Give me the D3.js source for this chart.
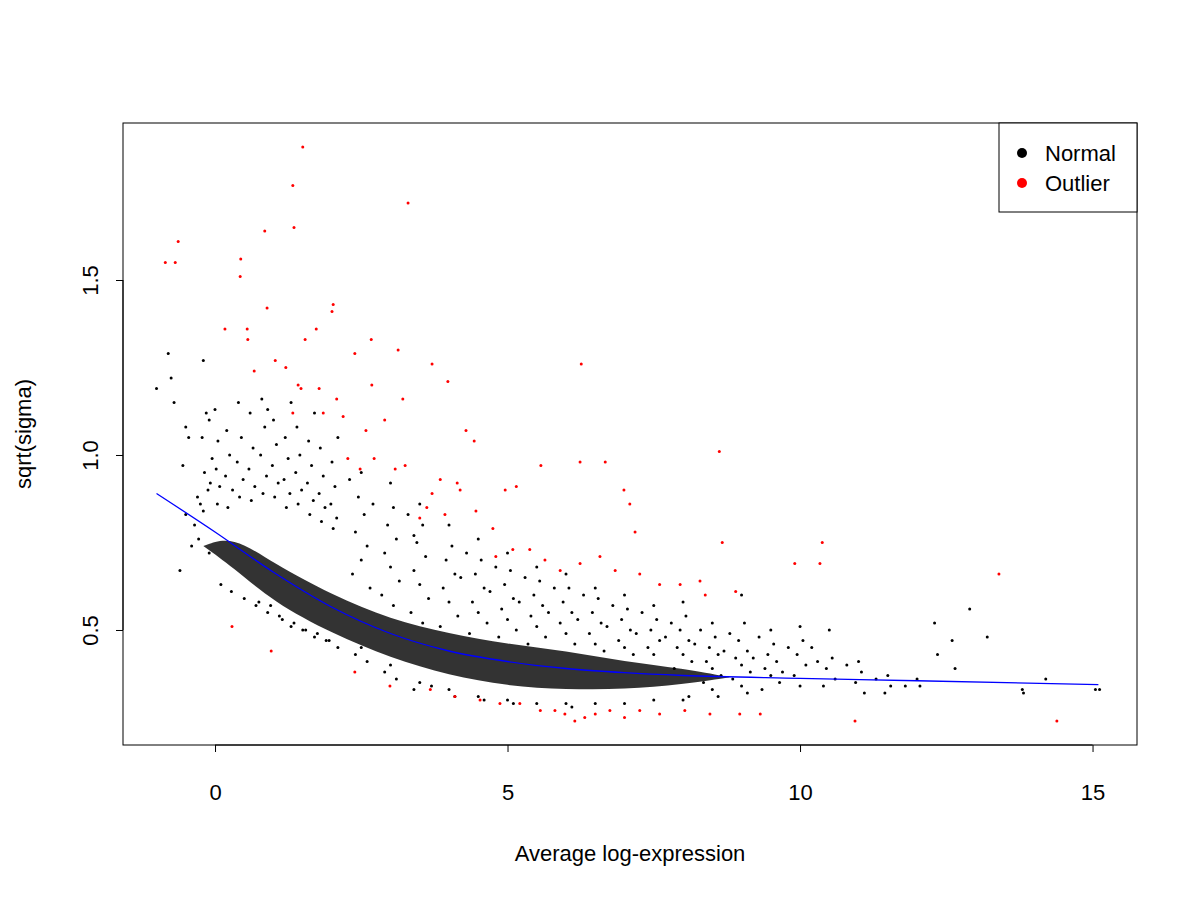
<!DOCTYPE html>
<html><head><meta charset="utf-8">
<script src="https://cdn.jsdelivr.net/npm/d3@7"></script>
<style>body{margin:0;background:#fff}</style></head>
<body><svg id="c" width="1200" height="900"></svg>
<script>
const xTicks=[0,5,10,15];
const yTicks=[0.5,1.0,1.5];
const trend=[[-1,0.89],[0,0.78],[1,0.665],[2,0.565],[3,0.49],[4,0.44],[5,0.41],[6,0.39],[7,0.378],[8,0.37],[10,0.362],[12,0.355],[15.1,0.344]];
const coreBand=[[-0.2,0.74,0.74],[0.3,0.68,0.77],[1,0.58,0.69],[2,0.49,0.60],[3,0.42,0.53],[4,0.37,0.49],[5,0.34,0.46],[6,0.33,0.44],[7,0.33,0.41],[8,0.345,0.39],[8.8,0.365,0.365]];
const normalPts="-1.0 1.19;-0.8 1.29;-0.75 1.22;-0.7 1.15;-0.5 1.08;-0.45 1.05;-0.55 0.97;-0.5 0.83;-0.4 0.74;-0.6 0.67;-0.3 0.88;-0.25 0.86;-0.35 0.80;-0.28 0.76;-0.2 1.27;-0.15 1.12;-0.22 1.05;-0.18 0.95;-0.12 0.90;-0.2 0.84;-0.1 0.72;-0.1 1.10;-0.05 0.99;-0.08 0.92;0.0 1.13;0.05 1.04;0.02 0.96;0.08 0.91;0.04 0.86;0.1 0.63;0.2 1.07;0.25 1.00;0.18 0.94;0.3 0.90;0.22 0.85;0.28 0.61;0.4 1.15;0.45 1.05;0.38 0.98;0.48 0.93;0.42 0.88;0.5 0.59;0.6 1.12;0.65 1.02;0.58 0.96;0.68 0.91;0.62 0.87;0.7 0.57;0.8 1.16;0.85 1.08;0.78 1.00;0.88 0.94;0.82 0.89;0.9 0.55;0.75 0.58;1.0 1.10;1.05 1.03;0.98 0.97;1.08 0.92;1.02 0.88;1.1 0.54;0.95 0.57;1.2 1.05;1.25 0.99;1.18 0.93;1.28 0.89;1.22 0.85;1.3 0.51;1.15 0.53;1.4 1.08;1.45 1.00;1.38 0.95;1.48 0.90;1.42 0.86;1.5 0.50;1.35 0.52;1.6 1.04;1.65 0.97;1.58 0.92;1.68 0.87;1.62 0.83;1.7 0.48;1.55 0.50;1.8 1.02;1.85 0.94;1.78 0.89;1.88 0.85;1.82 0.81;1.9 0.47;1.75 0.49;2.0 0.98;2.05 0.91;1.98 0.86;2.08 0.82;2.02 0.79;2.1 0.45;1.95 0.47;2.1 1.05;1.7 1.12;1.3 1.15;0.9 1.13;2.5 0.95;2.45 0.88;2.55 0.83;2.4 0.78;2.6 0.74;2.5 0.70;2.35 0.66;2.65 0.62;2.5 0.45;2.4 0.43;2.6 0.41;2.3 0.93;2.7 0.86;3.0 0.92;3.05 0.85;2.95 0.80;3.1 0.76;2.9 0.72;3.0 0.68;3.15 0.64;2.85 0.60;3.05 0.57;3.0 0.40;2.9 0.38;3.1 0.36;3.3 0.83;3.4 0.77;3.5 0.86;3.55 0.80;3.45 0.75;3.6 0.71;3.4 0.67;3.5 0.63;3.65 0.59;3.35 0.55;3.55 0.52;3.5 0.35;3.4 0.33;3.7 0.34;4.0 0.80;4.05 0.74;3.95 0.70;4.1 0.66;3.9 0.62;4.0 0.58;4.15 0.54;3.85 0.51;4.0 0.33;4.1 0.31;4.3 0.72;4.2 0.65;4.5 0.76;4.55 0.70;4.45 0.66;4.6 0.62;4.4 0.58;4.5 0.55;4.65 0.52;4.35 0.49;4.5 0.31;4.6 0.30;4.8 0.68;4.7 0.61;5.0 0.72;5.05 0.67;4.95 0.63;5.1 0.59;4.9 0.56;5.0 0.53;5.15 0.50;4.85 0.48;5.0 0.30;5.1 0.29;5.3 0.65;5.2 0.58;5.5 0.68;5.55 0.64;5.45 0.60;5.6 0.57;5.4 0.54;5.5 0.51;5.65 0.48;5.35 0.46;5.5 0.29;5.8 0.62;5.7 0.55;6.0 0.66;6.05 0.62;5.95 0.58;6.1 0.55;5.9 0.52;6.0 0.49;6.15 0.46;6.0 0.29;6.1 0.28;6.3 0.60;6.2 0.53;6.5 0.62;6.55 0.59;6.45 0.55;6.6 0.52;6.4 0.49;6.5 0.46;6.65 0.44;6.5 0.29;6.8 0.57;6.7 0.51;7.0 0.60;7.05 0.56;6.95 0.53;7.1 0.50;6.9 0.47;7.0 0.45;7.15 0.43;7.0 0.29;7.3 0.55;7.2 0.49;7.5 0.57;7.55 0.53;7.45 0.50;7.6 0.47;7.4 0.45;7.5 0.43;7.5 0.30;7.8 0.52;7.7 0.48;8.0 0.58;8.05 0.54;7.95 0.50;8.1 0.47;7.9 0.45;8.0 0.43;8.15 0.41;7.85 0.39;8.0 0.30;8.1 0.31;8.3 0.50;8.2 0.46;8.5 0.52;8.55 0.48;8.45 0.45;8.6 0.43;8.4 0.41;8.5 0.39;8.65 0.37;8.35 0.35;8.5 0.33;8.6 0.31;8.8 0.49;8.7 0.44;9.0 0.60;9.05 0.52;8.95 0.47;9.1 0.44;8.9 0.42;9.0 0.40;9.15 0.38;8.85 0.36;9.0 0.34;9.1 0.32;9.3 0.48;9.2 0.42;9.5 0.50;9.55 0.46;9.45 0.43;9.6 0.41;9.4 0.39;9.5 0.37;9.65 0.35;9.35 0.33;9.8 0.45;9.7 0.38;10.0 0.51;10.05 0.47;9.95 0.43;10.1 0.40;9.9 0.37;10.0 0.34;10.2 0.45;10.3 0.41;10.5 0.50;10.55 0.42;10.45 0.39;10.6 0.36;10.4 0.34;10.8 0.40;11.0 0.41;11.05 0.38;10.95 0.35;11.1 0.32;11.3 0.36;11.5 0.37;11.55 0.34;11.45 0.32;11.8 0.34;12.0 0.36;12.05 0.34;12.3 0.52;12.35 0.43;12.6 0.47;12.65 0.39;12.9 0.56;13.2 0.48;13.8 0.33;13.82 0.32;14.2 0.36;15.05 0.33;15.12 0.33";
const outlierPts="1.50 1.88;1.33 1.77;1.35 1.65;3.30 1.72;-0.85 1.55;-0.68 1.55;-0.63 1.61;0.44 1.56;0.43 1.51;0.85 1.64;0.89 1.42;2.02 1.43;2.0 1.41;0.17 1.36;0.55 1.36;0.56 1.33;1.54 1.33;1.73 1.36;2.67 1.33;2.39 1.29;3.13 1.30;1.03 1.27;1.21 1.25;6.26 1.26;3.71 1.26;3.98 1.21;0.67 1.24;1.42 1.20;1.47 1.19;2.68 1.20;1.78 1.19;2.08 1.16;3.21 1.16;1.33 1.12;1.85 1.12;2.19 1.11;2.58 1.07;4.29 1.07;4.43 1.04;2.9 1.1;2.27 0.99;2.48 0.96;2.72 0.99;3.08 0.96;3.25 0.97;6.24 0.98;6.67 0.98;5.57 0.97;8.62 1.01;3.85 0.93;3.71 0.89;3.62 0.85;4.19 0.90;4.96 0.90;5.15 0.91;4.14 0.92;3.5 0.82;3.93 0.83;4.46 0.84;4.75 0.79;6.99 0.90;7.09 0.86;7.18 0.78;8.67 0.75;10.38 0.75;4.80 0.71;5.09 0.73;5.38 0.73;5.64 0.70;5.9 0.67;6.24 0.69;6.58 0.71;6.84 0.67;7.26 0.66;7.6 0.63;7.95 0.63;8.29 0.64;8.38 0.60;8.9 0.61;9.91 0.69;10.34 0.69;13.4 0.66;0.29 0.51;0.96 0.44;3.68 0.33;4.1 0.31;4.53 0.30;4.87 0.29;5.21 0.29;5.56 0.27;5.81 0.27;5.98 0.26;6.15 0.24;6.32 0.25;6.5 0.26;6.75 0.27;7.0 0.25;7.26 0.27;7.6 0.26;8.03 0.27;8.46 0.26;8.97 0.26;9.32 0.26;10.94 0.24;14.39 0.24;2.39 0.38;2.99 0.34";
const parse=s=>s.split(";").map(p=>p.trim().split(/\s+/).map(Number));
const normal=parse(normalPts), outlier=parse(outlierPts);

const svg=d3.select("#c");
const L=123,R=1137,T=123,B=745;
const x=d3.scaleLinear().domain([-1.573,15.76]).range([L,R]);
const y=d3.scaleLinear().domain([0.1714,1.9486]).range([B,T]);
const font="Liberation Sans, Arial, sans-serif";
const FS=22;

svg.append("clipPath").attr("id","cl").append("rect").attr("x",L).attr("y",T).attr("width",R-L).attr("height",B-T);
const g=svg.append("g").attr("clip-path","url(#cl)");
g.append("path").datum(coreBand).attr("fill","#000").attr("opacity",0.8)
 .attr("d",d3.area().curve(d3.curveBasis).x(d=>x(d[0])).y0(d=>y(d[1])).y1(d=>y(d[2])));
g.selectAll("circle.n").data(normal).join("circle").attr("cx",d=>x(d[0])).attr("cy",d=>y(d[1])).attr("r",1.5).attr("fill","#000");
g.selectAll("circle.o").data(outlier).join("circle").attr("cx",d=>x(d[0])).attr("cy",d=>y(d[1])).attr("r",1.5).attr("fill","#f00");
g.append("path").datum(trend).attr("fill","none").attr("stroke","#0000ff").attr("stroke-width",1.3)
 .attr("d",d3.line().curve(d3.curveMonotoneX).x(d=>x(d[0])).y(d=>y(d[1])));

svg.append("rect").attr("x",L).attr("y",T).attr("width",R-L).attr("height",B-T).attr("fill","none").attr("stroke","#000");
const xa=svg.append("g").attr("transform",`translate(0,${B})`).call(d3.axisBottom(x).tickValues(xTicks).tickSize(7).tickFormat(d3.format("d")));
const ya=svg.append("g").attr("transform",`translate(${L},0)`).call(d3.axisLeft(y).tickValues(yTicks).tickSize(7).tickFormat(d3.format(".1f")));
[xa,ya].forEach(a=>{a.select(".domain").remove();a.selectAll("text").attr("font-family",font).attr("font-size",FS).attr("fill","#000");});
xa.append("line").attr("x1",x(0)).attr("x2",x(15)).attr("stroke","#000");
xa.selectAll(".tick text").attr("y",null).attr("dy",null).attr("y",55);
ya.append("line").attr("y1",y(0.5)).attr("y2",y(1.5)).attr("stroke","#000");
ya.selectAll(".tick text").each(function(){d3.select(this).attr("x",null).attr("dy",null).attr("text-anchor","middle").attr("transform","translate(-25,0) rotate(-90)");});
svg.append("text").attr("x",(L+R)/2).attr("y",861).attr("text-anchor","middle").attr("font-family",font).attr("font-size",FS).text("Average log-expression");
svg.append("text").attr("transform",`translate(31,${(T+B)/2}) rotate(-90)`).attr("text-anchor","middle").attr("font-family",font).attr("font-size",FS).text("sqrt(sigma)");

const lg=svg.append("g");
lg.append("rect").attr("x",999).attr("y",T).attr("width",R-999).attr("height",89).attr("fill","#fff").attr("stroke","#000");
[["Normal","#000",153],["Outlier","#f00",183]].forEach(([t,c,yy])=>{
 lg.append("circle").attr("cx",1022).attr("cy",yy).attr("r",5).attr("fill",c);
 lg.append("text").attr("x",1045).attr("y",yy+8).attr("font-family",font).attr("font-size",FS).text(t);
});
</script></body></html>
